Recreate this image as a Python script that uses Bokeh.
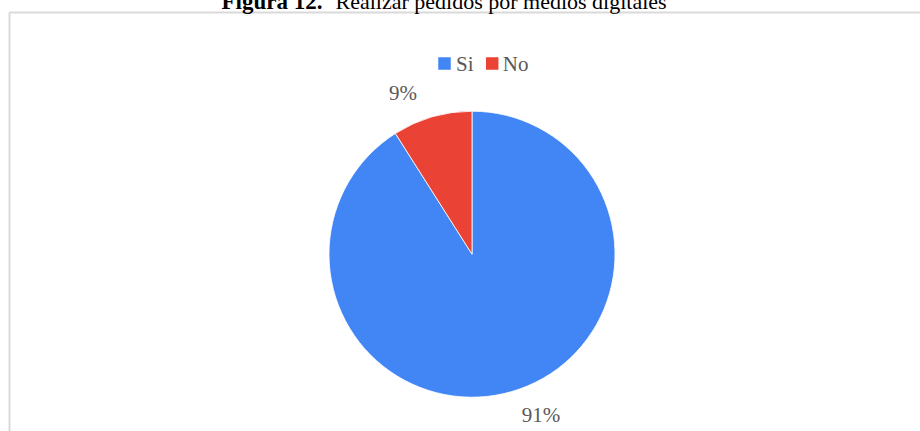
import math
from bokeh.plotting import figure
from bokeh.models import Range1d, ColumnDataSource
from bokeh.core.properties import value
from bokeh.embed import file_html
from bokeh.resources import INLINE

# ---- data ----
categories = ["Si", "No"]
values = [91, 9]
colors = ["#4285F4", "#EA4335"]
title_bold = "Figura 12."
title_rest = "Realizar pedidos por medios digitales"

# ---- layout constants (screen-pixel space, y negative downward) ----
SHIFT = 6
W, H = 920, 431 + SHIFT
CX, CY, R = 471.5, -253.7, 143.0
FONT = "Liberation Serif"
TXT = "#595959"

p = figure(width=W, height=H, x_range=Range1d(0, W), y_range=Range1d(-431, SHIFT),
           output_backend="svg", toolbar_location=None, min_border=0,
           x_axis_location=None, y_axis_location=None, margin=(-SHIFT, 0, 0, 0))
p.grid.visible = False
p.outline_line_color = None
p.background_fill_color = "white"

# chart border (left and top edges visible)
p.multi_line(xs=[[9, 9], [9, 940]], ys=[[-12, -460], [-12, -12]], line_color="#d9d9d9", line_width=2)

# pie
total = sum(values)
starts, ends, mids, pct = [], [], [], []
cum = 0.0
for v in values:
    a0 = math.pi / 2 - 2 * math.pi * cum / total
    cum += v
    a1 = math.pi / 2 - 2 * math.pi * cum / total
    starts.append(a0); ends.append(a1); mids.append((a0 + a1) / 2)
    pct.append(f"{round(v / total * 100)}%")

src = ColumnDataSource(dict(cat=categories, val=values, color=colors, start=starts, end=ends))
p.wedge(x=CX, y=CY, radius=R, start_angle="start", end_angle="end", direction="clock",
        fill_color="color", line_color="white", line_width=0.8, source=src)

# data labels
LABEL_R, LABEL_SHIFT = 175.0, math.radians(7)
lx = [CX + LABEL_R * math.cos(m + LABEL_SHIFT) for m in mids]
ly = [CY + LABEL_R * math.sin(m + LABEL_SHIFT) for m in mids]
p.text(x=lx, y=ly, text=pct, text_font=value(FONT), text_font_size="21px", text_color=TXT,
       text_align="center", text_baseline="middle")

# legend
sq_x = [444.0, 491.7]
tx_x = [455.5, 502.3]
LEG_Y = -63.0
p.rect(x=sq_x, y=[LEG_Y] * 2, width=12.5, height=12.5, fill_color=colors, line_color=None)
p.text(x=tx_x, y=[LEG_Y] * 2, text=categories, text_font=value(FONT), text_font_size="21px",
       text_color=TXT, text_align="left", text_baseline="middle")

# title (top clipped as in the reference)
TITLE_Y = -1.0
p.text(x=[221], y=[TITLE_Y], text=[title_bold], text_font=value(FONT), text_font_size="23px",
       text_font_style="bold", text_color="black", text_align="left", text_baseline="middle")
p.text(x=[335], y=[TITLE_Y], text=[title_rest], text_font=value(FONT), text_font_size="22px",
       text_font_style="normal", text_color="black", text_align="left", text_baseline="middle")

open("out.html", "w").write(file_html(p, INLINE))
